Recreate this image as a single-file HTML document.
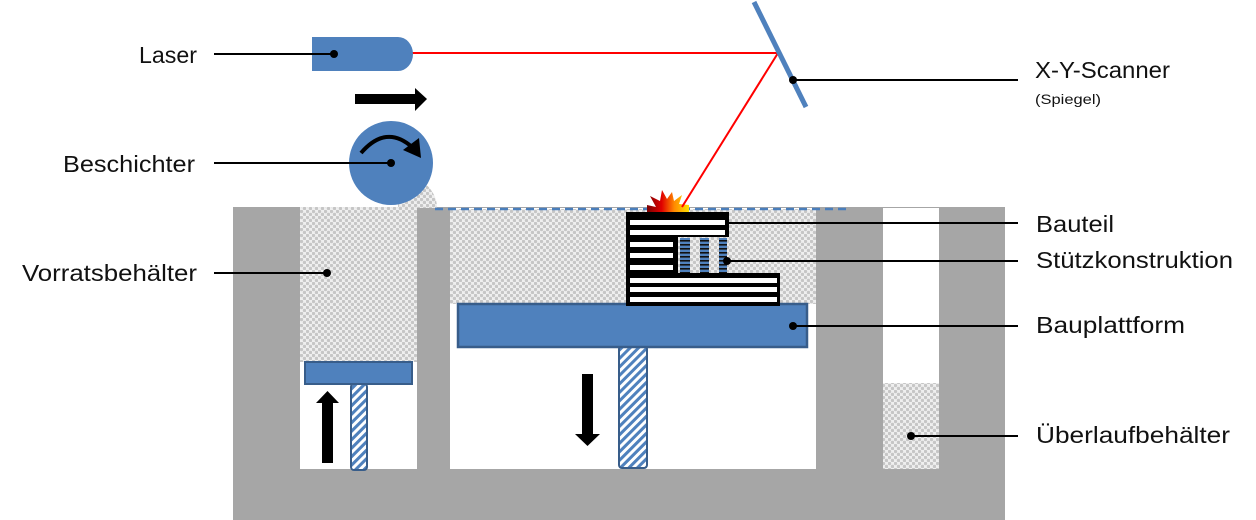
<!DOCTYPE html>
<html>
<head>
<meta charset="utf-8">
<style>
html,body{margin:0;padding:0;background:#fff;}
svg{display:block;}
text{font-family:"Liberation Sans",sans-serif;fill:#111;}
</style>
</head>
<body>
<svg width="1256" height="520" viewBox="0 0 1256 520" xmlns="http://www.w3.org/2000/svg">
<defs>
  <pattern id="pw" patternUnits="userSpaceOnUse" width="6" height="6">
    <rect width="6" height="6" fill="#efefef"/>
    <circle cx="1.5" cy="1.5" r="1.7" fill="#c6c6c6"/>
    <circle cx="4.5" cy="4.5" r="1.7" fill="#c6c6c6"/>
  </pattern>
  <pattern id="hatch" patternUnits="userSpaceOnUse" width="6" height="6" patternTransform="rotate(45)">
    <rect width="6" height="6" fill="#fff"/>
    <rect width="3" height="6" fill="#4f81bd"/>
  </pattern>
  <pattern id="sp" patternUnits="userSpaceOnUse" width="4" height="4">
    <rect width="4" height="4" fill="#4f81bd"/>
    <rect width="4" height="1.6" fill="#111"/>
  </pattern>
  <linearGradient id="fire" x1="0" y1="0" x2="1" y2="0">
    <stop offset="0" stop-color="#7a0000"/>
    <stop offset="0.35" stop-color="#e00000"/>
    <stop offset="0.65" stop-color="#ff8a00"/>
    <stop offset="1" stop-color="#ffe000"/>
  </linearGradient>
</defs>

<!-- gray structure -->
<rect x="233" y="207" width="772" height="313" fill="#a6a6a6"/>
<!-- cavities -->
<rect x="300" y="207" width="117" height="262" fill="#fff"/>
<rect x="450" y="208" width="366" height="261" fill="#fff"/>
<rect x="883" y="208" width="56" height="261" fill="#fff"/>
<!-- white above gray walls between -->
<rect x="233" y="0" width="772" height="207" fill="#fff"/>

<!-- powder -->
<rect x="300" y="207" width="117" height="155" fill="url(#pw)"/>
<rect x="450" y="209" width="366" height="95" fill="url(#pw)"/>
<rect x="883" y="383" width="56" height="86" fill="url(#pw)"/>
<path d="M398,208 L437,208 C437,196 430,186 419,179 L398,192 Z" fill="url(#pw)"/>

<!-- dashed powder level -->
<line x1="435" y1="209" x2="850" y2="209" stroke="#4a7ebb" stroke-width="2.5" stroke-dasharray="8 5"/>

<!-- supply platform + piston -->
<rect x="351" y="384" width="16" height="86" rx="3" fill="url(#hatch)" stroke="#385d8a" stroke-width="2"/>
<rect x="305" y="362" width="107" height="22" fill="#4f81bd" stroke="#385d8a" stroke-width="2"/>

<!-- build platform + piston -->
<rect x="619" y="346" width="28" height="122" rx="3" fill="url(#hatch)" stroke="#385d8a" stroke-width="2"/>
<rect x="458" y="304" width="349" height="43" fill="#4f81bd" stroke="#385d8a" stroke-width="2.5"/>

<!-- arrows -->
<rect x="322" y="402" width="11" height="61" fill="#000"/>
<polygon points="316,403 327.5,391 339,403" fill="#000"/>
<rect x="582" y="374" width="11" height="61" fill="#000"/>
<polygon points="575,434 587.5,446 600,434" fill="#000"/>
<rect x="355" y="94" width="61" height="10" fill="#000"/>
<polygon points="415,88 427,99 415,111" fill="#000"/>

<!-- spark -->
<polygon points="647,205 656,207 650,196 660,201 662,190 667,199 672,192 674,201 682,195 679,204 689,205 689,212 647,212" fill="url(#fire)"/>

<!-- part -->
<polygon points="626,212 729,212 729,237 678,237 678,273 780,273 780,306 626,306" fill="#000"/>
<rect x="678" y="238" width="51" height="35" fill="url(#pw)"/>
<rect x="680" y="238" width="10" height="35" fill="url(#sp)"/>
<rect x="700" y="238" width="9" height="35" fill="url(#sp)"/>
<rect x="719" y="238" width="8" height="35" fill="url(#sp)"/>
<g fill="#fff">
  <rect x="630" y="220" width="95" height="5"/>
  <rect x="630" y="230" width="95" height="5"/>
  <rect x="630" y="242" width="43" height="5"/>
  <rect x="630" y="253" width="43" height="5"/>
  <rect x="630" y="265" width="43" height="5"/>
  <rect x="630" y="278" width="147" height="5"/>
  <rect x="630" y="287" width="147" height="5"/>
  <rect x="630" y="297" width="147" height="5"/>
</g>

<!-- laser beam -->
<polyline points="412,53 778,53 682,207" fill="none" stroke="#ff0000" stroke-width="2"/>

<!-- laser -->
<path d="M312,37 H398 A15,17 0 0 1 398,71 H312 Z" fill="#4f81bd"/>

<!-- mirror -->
<line x1="754" y1="2" x2="806" y2="107" stroke="#4f81bd" stroke-width="5"/>

<!-- coater -->
<circle cx="391" cy="163" r="42" fill="#4f81bd"/>
<path d="M361,153 Q386,124 412,147" fill="none" stroke="#000" stroke-width="4"/>
<polygon points="421,158 403,150 419,138" fill="#000"/>

<!-- label lines -->
<g stroke="#000" stroke-width="2" fill="none">
  <line x1="214" y1="54" x2="334" y2="54"/>
  <line x1="214" y1="163" x2="391" y2="163"/>
  <line x1="214" y1="273" x2="327" y2="273"/>
  <line x1="793" y1="80" x2="1018" y2="80"/>
  <line x1="728" y1="223" x2="1018" y2="223"/>
  <line x1="727" y1="261" x2="1018" y2="261"/>
  <line x1="793" y1="326" x2="1018" y2="326"/>
  <line x1="911" y1="436" x2="1018" y2="436"/>
</g>
<g fill="#000">
  <circle cx="334" cy="54" r="4"/>
  <circle cx="391" cy="163" r="4"/>
  <circle cx="327" cy="273" r="4"/>
  <circle cx="793" cy="80" r="4"/>
  <circle cx="727" cy="261" r="4"/>
  <circle cx="793" cy="326" r="4"/>
  <circle cx="911" cy="436" r="4"/>
</g>

<!-- labels -->
<g font-size="23">
  <text x="139" y="63" textLength="58" lengthAdjust="spacingAndGlyphs">Laser</text>
  <text x="63" y="172" textLength="132" lengthAdjust="spacingAndGlyphs">Beschichter</text>
  <text x="22" y="281" textLength="175" lengthAdjust="spacingAndGlyphs">Vorratsbehälter</text>
  <text x="1035" y="78" textLength="135" lengthAdjust="spacingAndGlyphs">X-Y-Scanner</text>
  <text x="1036" y="232" textLength="78" lengthAdjust="spacingAndGlyphs">Bauteil</text>
  <text x="1036" y="268" textLength="197" lengthAdjust="spacingAndGlyphs">Stützkonstruktion</text>
  <text x="1036" y="333" textLength="149" lengthAdjust="spacingAndGlyphs">Bauplattform</text>
  <text x="1036" y="443" textLength="194" lengthAdjust="spacingAndGlyphs">Überlaufbehälter</text>
</g>
<text x="1035" y="104" font-size="14" textLength="66" lengthAdjust="spacingAndGlyphs">(Spiegel)</text>
</svg>
</body>
</html>
